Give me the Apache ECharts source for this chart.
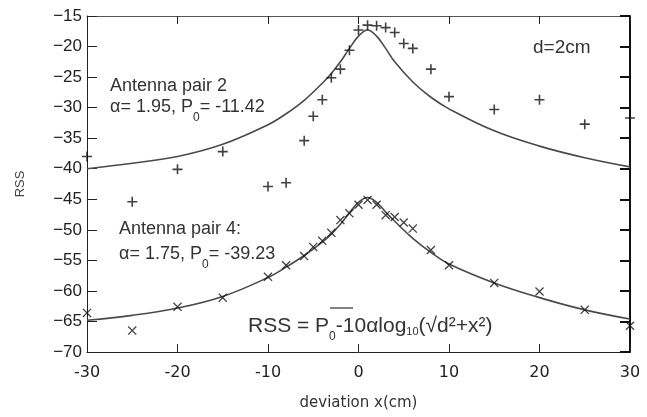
<!DOCTYPE html>
<html>
<head>
<meta charset="utf-8">
<script src="https://cdn.jsdelivr.net/npm/echarts@6/dist/echarts.min.js"></script>
<style>
  html, body { margin: 0; padding: 0; background: #fff; }
  #main { width: 647px; height: 417px; }
</style>
</head>
<body>
<div id="main"></div>
<script>
// measured points (deviation in cm, RSS)
var deviation = [-30, -25, -20, -15, -10, -8, -6, -5, -4, -3, -2, -1, 0, 1, 2, 3, 4, 5, 6, 8, 10, 15, 20, 25, 30];
var pair2Rss = [-38.0, -45.4, -40.1, -37.2, -42.9, -42.3, -35.4, -31.4, -28.7, -25.1, -23.7, -20.6, -17.3,
                -16.5, -16.6, -16.9, -17.7, -19.5, -20.3, -23.7, -28.2, -30.3, -28.7, -32.7, -31.7];
var pair4Rss = [-63.6, -66.5, -62.6, -61.1, -57.7, -55.8, -54.3, -52.8, -51.8, -50.5, -48.4, -47.3, -45.9,
                -45.1, -45.9, -47.6, -47.9, -48.8, -49.8, -53.3, -55.8, -58.7, -60.1, -63.1, -65.7];

// fitted curves
var fitDeviation = [-30, -25, -20, -15, -10, -8, -6, -4, -3, -2, -1, 0, 1, 2, 3, 4, 6, 8, 10, 15, 20, 25, 30];
var pair2Fit = [-40.0, -39.1, -38.0, -36.0, -32.8, -31.0, -28.8, -26.0, -24.4, -22.5, -20.3, -18.3,
                -17.3, -18.3, -20.3, -22.5, -25.8, -28.3, -30.2, -33.8, -36.3, -38.2, -39.7];
var pair4Fit = [-64.8, -64.0, -62.8, -60.9, -57.8, -56.1, -54.2, -52.0, -50.7, -49.1, -47.2, -45.5,
                -44.7, -45.5, -47.1, -48.6, -51.4, -53.7, -55.6, -58.7, -61.1, -63.1, -64.6];

var xTicks = [-30, -20, -10, 0, 10, 20, 30];
var yTicks = [-70, -65, -60, -55, -50, -45, -40, -35, -30, -25, -20, -15];

var plusPath = 'path://M0,4.2H10V5.8H0Z M4.2,0H5.8V10H4.2Z';
var crossPath = 'path://M0,1L1,0L10,9L9,10Z M9,0L10,1L1,10L0,9Z';

function zip(xs, ys) {
    var out = [];
    for (var i = 0; i < xs.length; i++) out.push([xs[i], ys[i]]);
    return out;
}

var txt = '#333';
var sans = '"Liberation Sans", Arial, sans-serif';

function label(x, y, text, size) {
    var style = {
        text: text,
        font: size + 'px ' + sans,
        fill: txt,
        align: 'left', textAlign: 'left',
        verticalAlign: 'middle', textVerticalAlign: 'middle',
        lineHeight: 34,
        rich: {
            s0: { font: '12px ' + sans, fill: txt, verticalAlign: 'bottom' },
            s10: { font: '11px ' + sans, fill: txt, verticalAlign: 'bottom', height: 22 }
        }
    };
    return { type: 'text', x: x, y: y, z: 10, style: style };
}

var chartDom = document.getElementById('main');
var myChart = echarts.init(chartDom);
var option;

var xBase = {
    type: 'value',
    min: xTicks[0],
    max: xTicks[xTicks.length - 1],
    interval: xTicks[1] - xTicks[0],
    splitLine: { show: false }
};
var yBase = {
    type: 'value',
    min: yTicks[0],
    max: yTicks[yTicks.length - 1],
    interval: yTicks[1] - yTicks[0],
    splitLine: { show: false }
};

option = {
    animation: false,
    backgroundColor: '#fff',
    grid: { left: 87, right: 17, top: 16, bottom: 65 },
    xAxis: [
        Object.assign({}, xBase, {
            position: 'bottom',
            axisLine: { onZero: false, lineStyle: { color: '#222', width: 1 } },
            axisTick: { inside: true, length: 8, lineStyle: { color: '#222' } },
            axisLabel: { color: '#222', fontFamily: 'DejaVu Sans', fontSize: 16, margin: 13 },
            name: 'deviation x(cm)',
            nameLocation: 'middle',
            nameGap: 44,
            nameTextStyle: { color: '#333', fontFamily: 'DejaVu Sans', fontSize: 15 }
        }),
        Object.assign({}, xBase, {
            position: 'top',
            axisLine: { onZero: false, lineStyle: { color: '#555', width: 1 } },
            axisTick: { inside: true, length: 8, lineStyle: { color: '#222' } },
            axisLabel: { show: false }
        })
    ],
    yAxis: [
        Object.assign({}, yBase, {
            position: 'left',
            axisLine: { show: true, onZero: false, lineStyle: { color: '#222', width: 1 } },
            axisTick: { show: true, inside: true, length: 10, lineStyle: { color: '#222' } },
            axisLabel: {
                color: '#222', fontFamily: 'Liberation Sans', fontSize: 17, margin: 5,
                formatter: function (v) { return String(v).replace('-', '\u2212'); }
            },
            name: 'RSS',
            nameLocation: 'middle',
            nameGap: 60,
            nameTextStyle: { color: '#444', fontFamily: 'Liberation Sans', fontSize: 13 }
        }),
        Object.assign({}, yBase, {
            position: 'right',
            axisLine: { show: true, onZero: false, lineStyle: { color: '#111', width: 2 } },
            axisTick: { show: true, inside: true, length: 10, lineStyle: { color: '#111', width: 2 } },
            axisLabel: { show: false }
        })
    ],
    series: [
        {
            name: 'pair 2 fit',
            type: 'line',
            data: zip(fitDeviation, pair2Fit),
            showSymbol: false,
            smooth: 0.4,
            lineStyle: { color: '#4a4a4a', width: 1.6 },
            silent: true
        },
        {
            name: 'pair 4 fit',
            type: 'line',
            data: zip(fitDeviation, pair4Fit),
            showSymbol: false,
            smooth: 0.4,
            lineStyle: { color: '#4a4a4a', width: 1.6 },
            silent: true
        },
        {
            name: 'Antenna pair 2',
            type: 'scatter',
            data: zip(deviation, pair2Rss),
            symbol: plusPath,
            symbolSize: 10,
            itemStyle: { color: '#111' },
            z: 5
        },
        {
            name: 'Antenna pair 4',
            type: 'scatter',
            data: zip(deviation, pair4Rss),
            symbol: crossPath,
            symbolSize: 9,
            itemStyle: { color: '#111' },
            z: 5
        }
    ],
    graphic: [
        label(110, 86, 'Antenna pair 2', 18),
        label(110, 107, 'α= 1.95, P{s0|0}= -11.42', 18),
        label(533, 48, 'd=2cm', 19),
        label(119, 229, 'Antenna pair 4:', 18),
        label(119, 254, 'α= 1.75, P{s0|0}= -39.23', 18),
        label(248, 326, 'RSS = P{s0|0}-10αlog{s10|10}(√d²+x²)', 21),
        { type: 'line', z: 10, shape: { x1: 330, y1: 308, x2: 353, y2: 308 }, style: { stroke: '#333', lineWidth: 1.2 } }
    ]
};

option && myChart.setOption(option);
</script>
</body>
</html>
